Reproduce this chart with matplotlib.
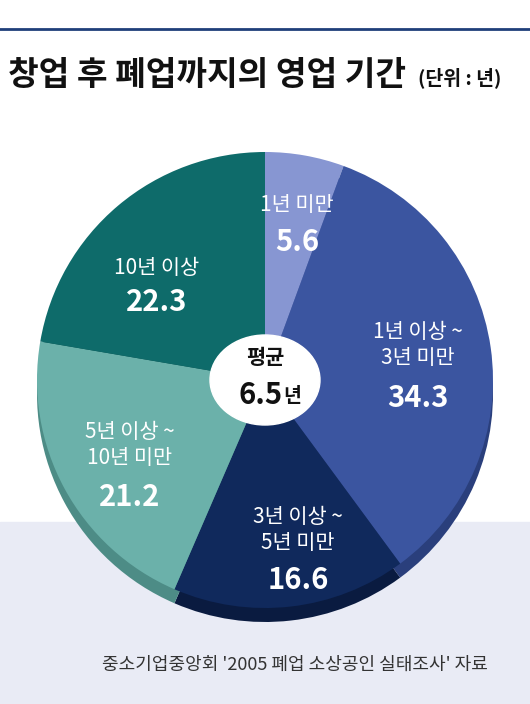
import matplotlib
matplotlib.use("Agg")
import matplotlib.pyplot as plt
from matplotlib.patches import Ellipse, Rectangle

plt.rcParams['font.family'] = ['Noto Sans CJK KR', 'DejaVu Sans']

categories = ["1년 미만", "1년 이상 ~\n3년 미만", "3년 이상 ~\n5년 미만", "5년 이상 ~\n10년 미만", "10년 이상"]
values = [5.6, 34.3, 16.6, 21.2, 22.3]
colors = ["#8796d2", "#3b55a0", "#10295c", "#6bb1aa", "#0e6b6a"]
dark = ["#5f6fae", "#2a3f7c", "#0a1b40", "#4d8c86", "#0a4d4c"]
label_px = [(297, 205), (418, 345), (298, 530), (130, 445), (157, 268)]
num_px = [(297, 242), (418, 398), (298, 580), (130, 497), (157, 302)]

W, H = 530, 704
fig = plt.figure(figsize=(W/100, H/100), dpi=100)
ax = fig.add_axes([0, 0, 1, 1])
ax.set_xlim(0, W); ax.set_ylim(0, H); ax.axis('off')
Y = lambda y: H - y

ax.add_patch(Rectangle((0, 0), W, Y(522), color="#e9ebf5", zorder=0))
ax.plot([0, W], [Y(29), Y(29)], color="#1f3f7a", lw=2)
ax.text(8, Y(76), "창업 후 폐업까지의 영업 기간", fontsize=24, fontweight='bold', va='center', color="#111")
ax.text(418, Y(78), "(단위 : 년)", fontsize=14, fontweight='bold', va='center', color="#111")

cx, cy, r = 265, Y(380), 228
ax.pie(values, colors=dark, startangle=90, counterclock=False, center=(cx, cy-14), radius=r, frame=True)
ax.pie(values, colors=colors, startangle=90, counterclock=False, center=(cx, cy), radius=r, frame=True)
ax.set_xlim(0, W); ax.set_ylim(0, H); ax.set_aspect('auto'); ax.axis('off')

ax.add_patch(Ellipse((cx, cy), 110, 90, color="white", zorder=3))
for i, c in enumerate(categories):
    ax.text(label_px[i][0], Y(label_px[i][1]), c, fontsize=15, color="white", ha='center', va='center', linespacing=1.2, zorder=4)
    ax.text(num_px[i][0], Y(num_px[i][1]), f"{values[i]}", fontsize=21, fontweight='bold', color="white", ha='center', va='center', zorder=4)
ax.text(cx, Y(358), "평균", fontsize=15, fontweight='bold', ha='center', va='center', color="#111", zorder=4)
ax.text(cx-4, Y(395), "6.5", fontsize=21, fontweight='bold', ha='center', va='center', color="#111", zorder=4)
ax.text(cx+27, Y(397), "년", fontsize=14, fontweight='bold', ha='center', va='center', color="#111", zorder=4)
ax.text(295, Y(665), "중소기업중앙회 '2005 폐업 소상공인 실태조사' 자료", fontsize=13, ha='center', va='center', color="#333")
fig.savefig("out.png", dpi=100)
